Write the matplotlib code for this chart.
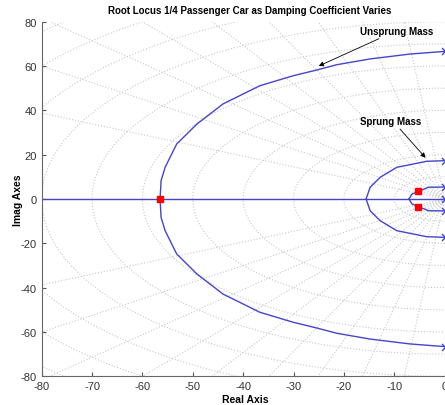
import numpy as np
import matplotlib
matplotlib.use("Agg")
import matplotlib.pyplot as plt

# locus branches (upper halves, mirrored below)
unsprung_re = [0, -6.9, -14.8, -21.4, -25.4, -30.1, -36.7, -44.0, -49.2, -53.2, -55.5, -56.3, -56.5]
unsprung_im = [66.6, 65.4, 63.2, 60.6, 58.2, 55.6, 51.1, 42.9, 33.8, 24.8, 14.3, 8.3, 0]

sprung_re = [0, -3.6, -9.5, -12.8, -14.8, -15.6]
sprung_im = [17.3, 17.0, 14.3, 9.8, 5.3, 0]

inner_re = [0, -3.2, -4.9, -6.5, -7.1]
inner_im = [5.4, 5.3, 3.7, 2.2, 0]

axis_re = [-90, 0]
axis_im = [0, 0]

# open loop poles (start of branches) and selected closed loop poles
pole_im = [66.6, 17.3, 5.4, 0, -5.4, -17.3, -66.6]
sel_re = [-56.5, -5.2, -5.2]
sel_im = [0, 3.6, -3.6]

# grid values
zetas = [0.1, 0.2, 0.3, 0.4, 0.5, 0.6, 0.7, 0.8, 0.9]
wns = [10, 20, 30, 40, 50, 60, 70, 80, 90, 100, 110, 120]

narrow = ['Liberation Sans Narrow', 'DejaVu Sans Condensed', 'Liberation Sans']
plt.rcParams['font.family'] = ['Liberation Sans', 'DejaVu Sans']
plt.rcParams['axes.unicode_minus'] = False

fig = plt.figure(figsize=(4.45, 4.06), dpi=100)
ax = fig.add_axes([0.0937, 0.0707, 1.132, 0.8734])

grid_kw = dict(color='#c8c8c8', ls=':', lw=0.8, zorder=0)
for z in zetas:
    ang = np.arccos(z)
    ax.plot([0, -200 * np.cos(ang)], [0, 200 * np.sin(ang)], **grid_kw)
    ax.plot([0, -200 * np.cos(ang)], [0, -200 * np.sin(ang)], **grid_kw)
t = np.linspace(np.pi / 2, 3 * np.pi / 2, 200)
for w in wns:
    ax.plot(w * np.cos(t), w * np.sin(t), **grid_kw)

blue = '#4444cc'
for xs, ys in [(unsprung_re, unsprung_im), (sprung_re, sprung_im), (inner_re, inner_im)]:
    ax.plot(xs, ys, color=blue, lw=1)
    ax.plot(xs, [-v for v in ys], color=blue, lw=1)
ax.plot(axis_re, axis_im, color=blue, lw=1)

chevron = [(-1, 1), (0, 0), (-1, -1)]
ax.plot([0] * len(pole_im), pole_im, ls='none', marker=chevron, ms=5,
        mfc='none', mec=blue, mew=1)
ax.plot(sel_re, sel_im, 's', color='red', ms=4.5, zorder=5)

ax.set_xlim(-80, 20)
ax.set_ylim(-80, 80)
ax.set_xticks(np.arange(-80, 1, 10))
ax.set_yticks(np.arange(-80, 81, 20))
ax.tick_params(direction='in', length=3, labelsize=8, colors='#555555',
               labelcolor='#333333', width=0.8)
for s in ['top', 'right']:
    ax.spines[s].set_visible(False)
for s in ['left', 'bottom']:
    ax.spines[s].set_color('#666666')

ax.annotate('Unsprung Mass', xy=(-25.0, 60.0), xytext=(-16.9, 73.6),
            fontsize=7, fontweight='bold', family=narrow, va='bottom',
            arrowprops=dict(arrowstyle='-|>', color='k', lw=0.6,
                            mutation_scale=7, shrinkA=0, shrinkB=0))
ax.annotate('Sprung Mass', xy=(-3.8, 18.6), xytext=(-16.9, 32.8),
            fontsize=7, fontweight='bold', family=narrow, va='bottom',
            arrowprops=dict(arrowstyle='-|>', color='k', lw=0.6,
                            mutation_scale=7, shrinkA=0, shrinkB=0,
                            relpos=(0.62, 0)))

fig.text(250 / 445, 1 - 11 / 406, 'Root Locus 1/4 Passenger Car as Damping Coefficient Varies',
         ha='center', va='center', fontsize=7, fontweight='bold', family=narrow)
fig.text(245 / 445, 1 - 400 / 406, 'Real Axis', ha='center', va='center',
         fontsize=7.5, fontweight='bold', family=narrow)
fig.text(18 / 445, 1 - 200 / 406, 'Imag Axes', ha='center', va='center',
         rotation=90, fontsize=7.5, fontweight='bold', family=narrow)

fig.savefig('out.png', dpi=100)
